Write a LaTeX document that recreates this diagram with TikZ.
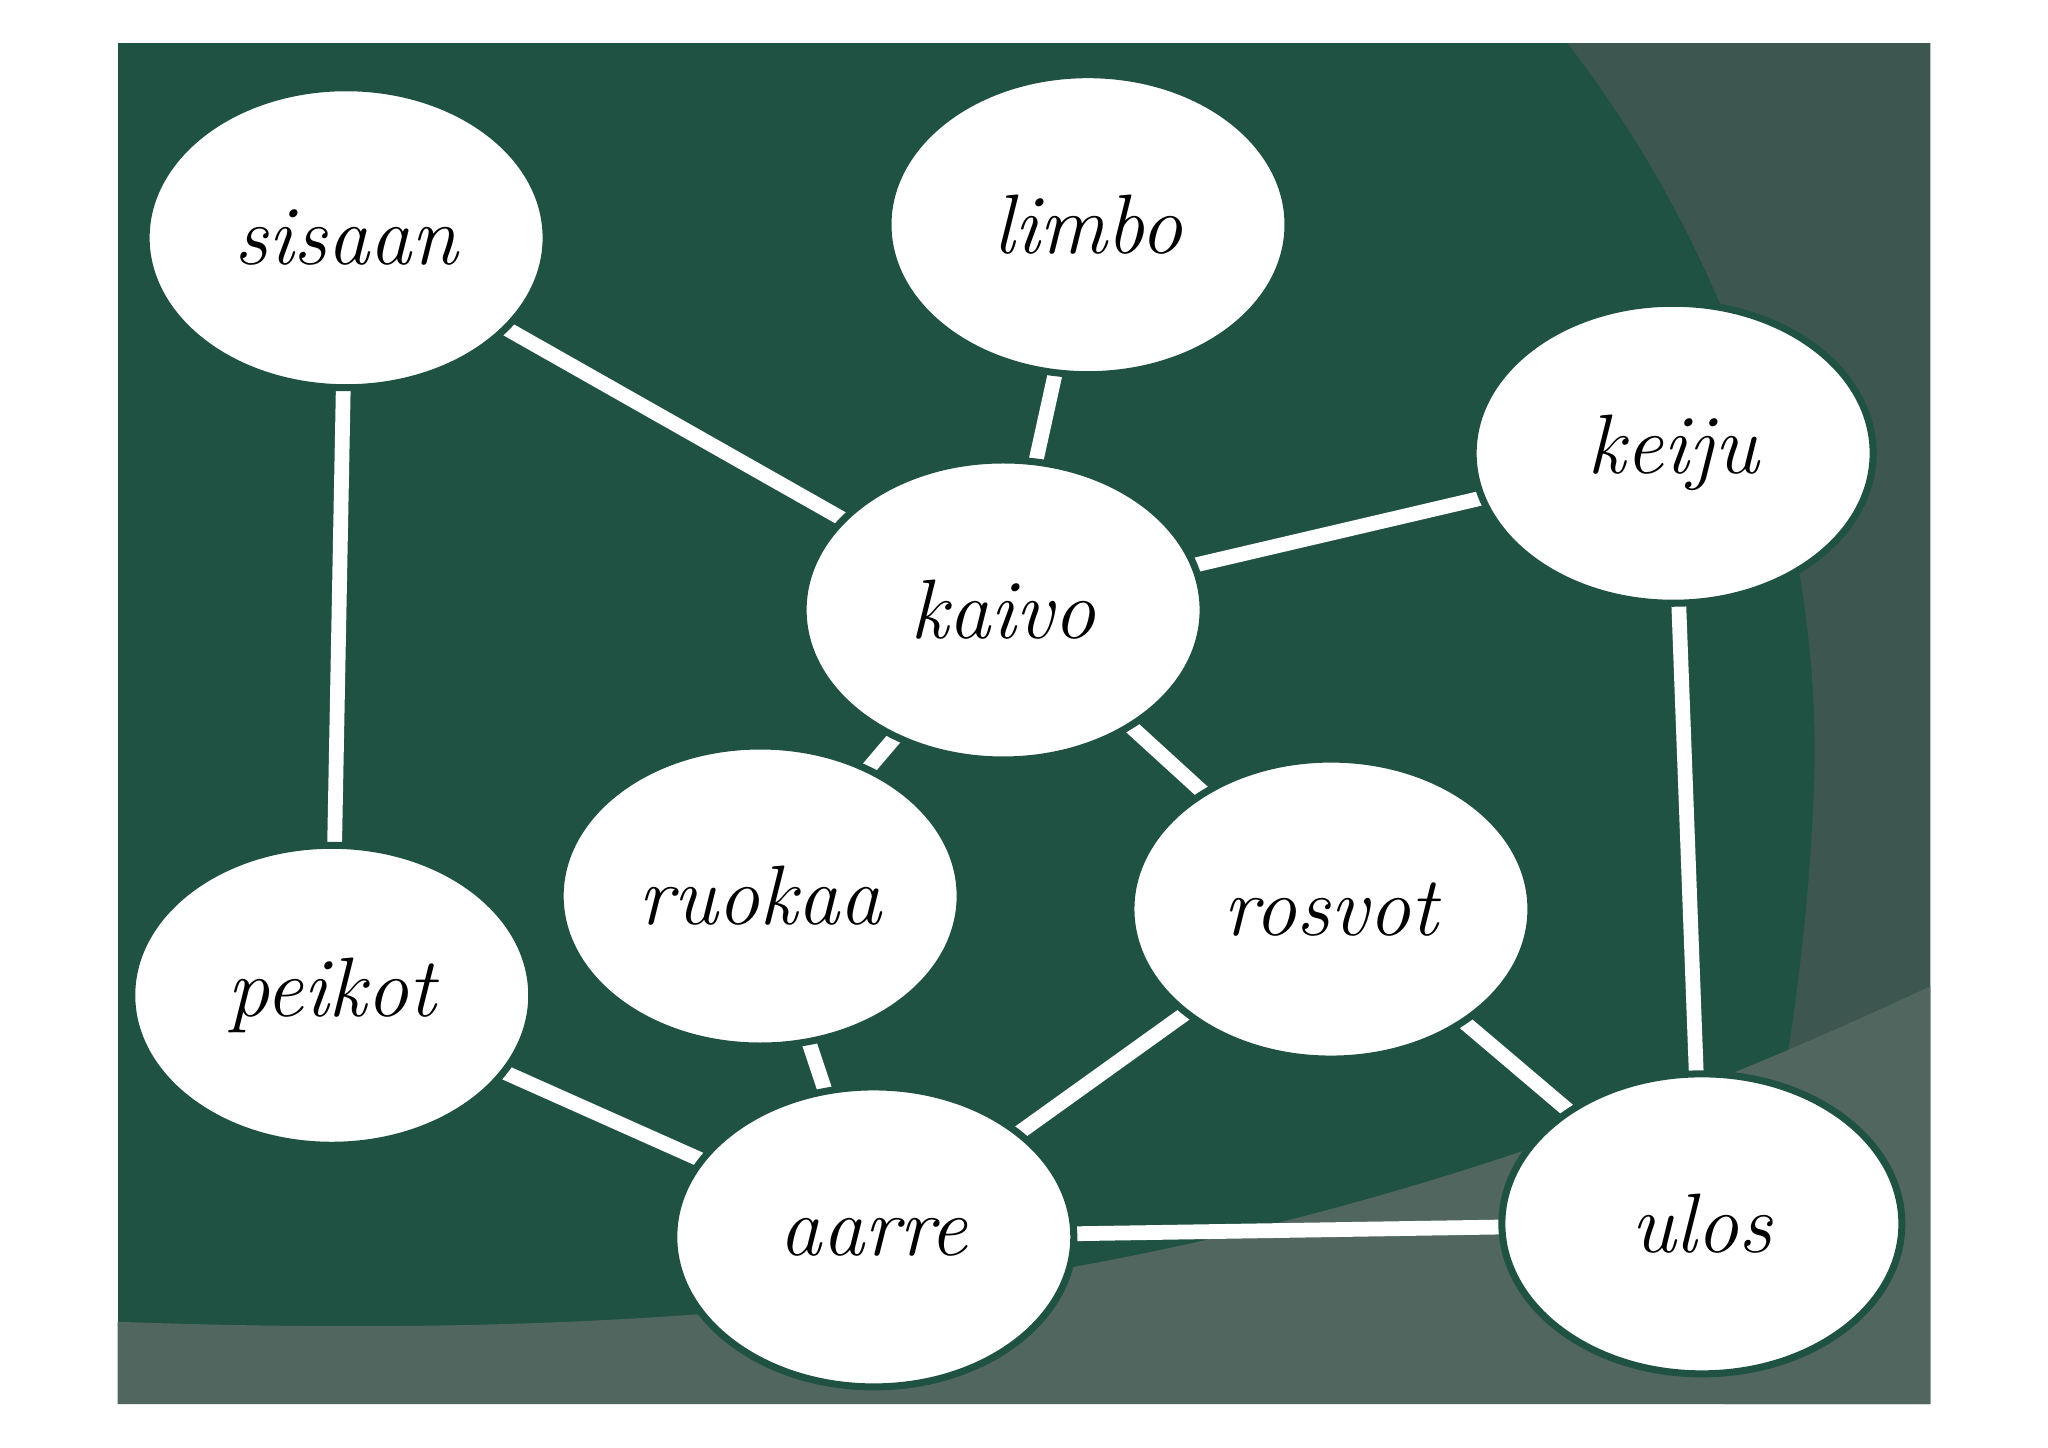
\documentclass[tikz,border=0pt]{standalone}
\usetikzlibrary{shapes.geometric}
\pgfdeclarelayer{bg}
\pgfdeclarelayer{edges}
\pgfsetlayers{bg,edges,main}
\begin{document}
\begin{tikzpicture}[x=0.013061cm,y=-0.013061cm,
  bub/.style={ellipse,fill=white,draw=gbg,line width=2pt,minimum width=4.0cm,minimum height=3.0cm,inner sep=0pt,font=\fontsize{24}{28}\selectfont\itshape},
  link/.style={white,line width=4.2pt}]
\definecolor{gbg}{HTML}{1F5242}
\definecolor{gr1}{HTML}{3E5650}
\definecolor{gr2}{HTML}{526660}
\useasboundingbox (0,0) rectangle (1568,1108);
\begin{pgfonlayer}{bg}
\fill[white] (0,0) rectangle (1568,1108);
\fill[gbg] (90,33) rectangle (1478,1075);
\fill[gr1] (1200,33) .. controls (1330,200) and (1400,420) .. (1388,620) .. controls (1380,800) and (1340,950) .. (1320,1075) -- (1478,1075) -- (1478,33) -- cycle;
\fill[gr2] (90,1012) .. controls (600,1030) and (1000,980) .. (1478,755) -- (1478,1075) -- (90,1075) -- cycle;
\end{pgfonlayer}
\node[bub] (sisaan) at (265,182) {sisaan};
\node[bub] (limbo) at (833,172) {limbo};
\node[bub] (keiju) at (1281,347) {keiju};
\node[bub] (kaivo) at (768,467) {kaivo};
\node[bub] (ruokaa) at (582,686) {ruokaa};
\node[bub] (rosvot) at (1019,696) {rosvot};
\node[bub] (peikot) at (254,762) {peikot};
\node[bub] (aarre) at (669,947) {aarre};
\node[bub] (ulos) at (1303,937) {ulos};
\begin{pgfonlayer}{edges}
\foreach \a/\b in {sisaan/kaivo,limbo/kaivo,keiju/kaivo,sisaan/peikot,kaivo/ruokaa,kaivo/rosvot,keiju/ulos,ruokaa/aarre,rosvot/aarre,rosvot/ulos,peikot/aarre,aarre/ulos}
  \draw[link] (\a.center) -- (\b.center);
\end{pgfonlayer}
\end{tikzpicture}
\end{document}
